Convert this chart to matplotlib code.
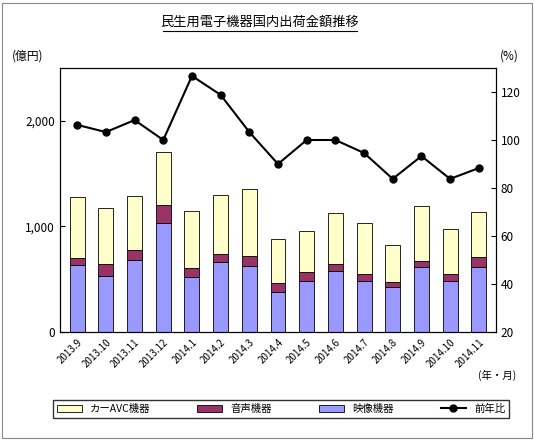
import matplotlib
matplotlib.use("Agg")
import matplotlib.pyplot as plt
from matplotlib.patches import Rectangle

plt.rcParams['font.family'] = ['Noto Sans CJK JP', 'DejaVu Sans']

months = ["2013.9","2013.10","2013.11","2013.12","2014.1","2014.2","2014.3","2014.4",
          "2014.5","2014.6","2014.7","2014.8","2014.9","2014.10","2014.11"]
video = [635,530,685,1035,520,665,625,380,485,580,485,425,615,485,615]
audio = [65,115,90,165,90,75,95,85,85,65,65,50,60,65,95]
car = [580,530,515,505,540,560,630,415,390,480,485,350,520,425,430]
yoy = [106.3,103.3,108.3,100.0,126.7,118.8,103.3,90.0,100.0,100.0,94.6,83.8,93.3,83.8,88.3]

W, H = 534, 440
fig = plt.figure(figsize=(W/100, H/100), dpi=100)
fig.patches.append(Rectangle((0.004, 0.004), 0.992, 0.99, transform=fig.transFigure,
                             fill=False, edgecolor='#888888', lw=0.8))
ax = fig.add_axes([60/W, 1-332/H, 436/W, 264/H])
x = list(range(len(months)))
bw = 0.52
ax.bar(x, video, bw, color='#9999ff', edgecolor='black', lw=0.6, label='映像機器', zorder=2)
ax.bar(x, audio, bw, bottom=video, color='#993366', edgecolor='black', lw=0.6, label='音声機器', zorder=2)
b3 = [v+a for v, a in zip(video, audio)]
ax.bar(x, car, bw, bottom=b3, color='#ffffcc', edgecolor='black', lw=0.6, label='カーAVC機器', zorder=2)
ax.set_ylim(0, 2500)
ax.set_yticks([0, 1000, 2000])
ax.set_yticklabels(['0', '1,000', '2,000'])
ax.set_xlim(-0.6, len(months)-0.4)
ax.set_xticks(x)
ax.set_xticklabels(months, rotation=45, ha='right', rotation_mode='anchor', fontsize=7)
ax.tick_params(axis='y', labelsize=8.5, direction='in')
ax.tick_params(axis='x', length=0)
ax2 = ax.twinx()
ax2.plot(x, yoy, color='black', marker='o', ms=5, lw=1.5, label='前年比', zorder=3)
ax2.set_ylim(20, 130)
ax2.set_yticks([20, 40, 60, 80, 100, 120])
ax2.tick_params(axis='y', labelsize=8.5, direction='in')

fig.text(260/W, 1-22/H, '民生用電子機器国内出荷金額推移', ha='center', va='center', fontsize=9.5)
fig.add_artist(plt.Line2D([163/W, 357/W], [1-31/H, 1-31/H], color='black', lw=0.8))
fig.text(12/W, 1-56/H, '(億円)', ha='left', va='center', fontsize=8.5)
fig.text(500/W, 1-56/H, '(%)', ha='left', va='center', fontsize=8.5)
fig.text(478/W, 1-375/H, '(年・月)', ha='left', va='center', fontsize=7.5)

h1, l1 = ax.get_legend_handles_labels()
h2, l2 = ax2.get_legend_handles_labels()
order = [2, 1, 0]
fig.legend([h1[i] for i in order]+h2, [l1[i] for i in order]+l2, loc='center',
           bbox_to_anchor=(281/W, 1-409/H), ncol=4, fontsize=7.5, frameon=True,
           fancybox=False, edgecolor='black', columnspacing=4.5, handlelength=2.4)
fig.savefig('out.png', dpi=100)
